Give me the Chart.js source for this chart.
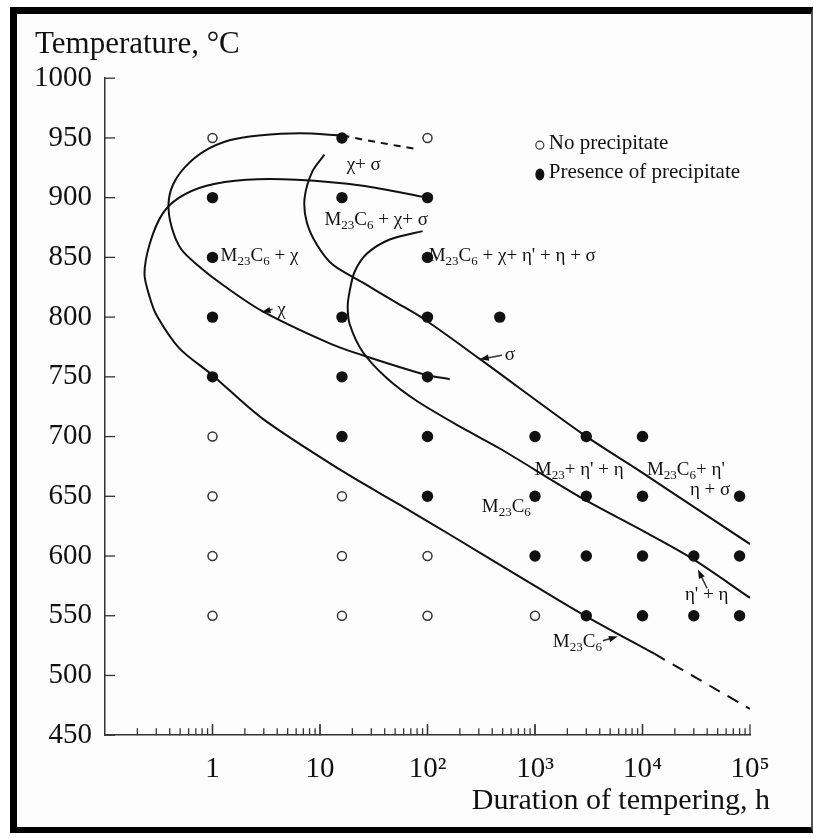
<!DOCTYPE html>
<html>
<head>
<meta charset="utf-8">
<script src="https://cdn.jsdelivr.net/npm/chart.js@4.4.1/dist/chart.umd.min.js"></script>
<style>
  html, body { margin: 0; background: #fff; }
  #wrap { position: relative; width: 814px; height: 838px; }
  #frame {
    position: absolute; left: 10px; top: 7px; width: 803px; height: 826px;
    box-sizing: border-box; background: #fdfdfd;
    border-left: 7px solid #000; border-top: 7px solid #000;
    border-right: 2px solid #555; border-bottom: 6px solid #000;
  }
  canvas { position: absolute; left: 0; top: 0; }
</style>
</head>
<body>
<div id="wrap">
  <div id="frame"></div>
  <canvas id="grafico" width="814" height="838"></canvas>
</div>
<script>
// observed samples (duration h, temperature C)
const openTime = [1, 1, 1, 1, 1, 16, 16, 16, 100, 100, 100, 1000];
const openTemp = [950, 700, 650, 600, 550, 650, 600, 550, 950, 600, 550, 550];

const filledTime = [1, 1, 1, 1, 16, 16, 16, 16, 16, 100, 100, 100, 100, 100, 100, 470,
  1000, 1000, 1000, 3000, 3000, 3000, 3000, 10000, 10000, 10000, 10000, 30000, 30000, 80000, 80000, 80000];
const filledTemp = [900, 850, 800, 750, 950, 900, 800, 750, 700, 900, 850, 800, 750, 700, 650, 800,
  700, 650, 600, 700, 650, 600, 550, 700, 650, 600, 550, 600, 550, 650, 600, 550];

// boundary curves
const chiTime = [16.2, 6.5, 2.7, 1.44, 0.84, 0.56, 0.43, 0.39, 0.415, 0.51, 0.76, 1.29, 2.9, 12.3, 27, 94, 161];
const chiTemp = [952, 954, 952, 948, 939, 926, 911, 895, 876, 857, 842, 826, 805, 778, 767, 752, 748];
const chiDashTime = [16.2, 36, 76];
const chiDashTemp = [952, 946, 941];

const m23Time = [100, 25, 6.05, 2.07, 0.88, 0.49, 0.34, 0.26, 0.233, 0.26, 0.3, 0.49, 0.98, 2.92, 16.2, 55, 161, 954, 2790, 13000];
const m23Temp = [900, 910, 915, 915, 910, 900, 886, 861, 836, 817, 802, 774, 752, 715, 671, 643, 618, 576, 551, 518];
const m23DashTime = [13000, 100000];
const m23DashTemp = [518, 472];

const sigmaTime = [11.0, 8.5, 7.2, 7.5, 9.3, 13.1, 24.9, 49.5, 94, 306, 2790, 9460, 16900, 100000];
const sigmaTemp = [936, 922, 900, 880, 861, 844, 829, 813, 798, 765, 702, 671, 656, 610];

const etaTime = [90, 44.5, 27.2, 21.0, 18.9, 18.1, 18.9, 24.9, 41.7, 79, 213, 470, 2790, 10100, 28800, 100000];
const etaTemp = [872, 865, 853, 838, 822, 809, 794, 771, 749, 730, 707, 690, 648, 621, 598, 565];

// axes
const xTickValues = [1, 10, 100, 1000, 10000, 100000];
const xTickLabels = ['1', '10', '10\u00B2', '10\u00B3', '10\u2074', '10\u2075'];

// phase labels (text anchored left/middle at time, temperature)
const labelTime = [1.19, 17.7, 11.0, 102.6, 4.0, 523, 996, 10990, 27600, 320, 24800, 1466];
const labelTemp = [851, 927, 881, 851, 806, 768, 672, 672, 655, 641, 567, 528];
const labelText = ['M_23C_6 + \u03C7', '\u03C7+ \u03C3', 'M_23C_6 + \u03C7+ \u03C3',
  "M_23C_6 + \u03C7+ \u03B7' + \u03B7 + \u03C3", '\u03C7', '\u03C3', "M_23+ \u03B7' + \u03B7",
  "M_23C_6+ \u03B7'", '\u03B7 + \u03C3', 'M_23C_6', "\u03B7' + \u03B7", 'M_23C_6'];

// arrows: tail -> tip
const arrowFrom = [[3.62, 806.5], [491, 768], [39800, 573], [4280, 529]];
const arrowTo = [[2.86, 804], [306, 764.7], [32800, 588.8], [5900, 532.7]];

const FONT = '"Liberation Serif", "DejaVu Serif", serif';
const INK = '#111';

function pares(xs, ys) {
  return xs.map((x, i) => ({ x: x, y: ys[i] }));
}

function curva(xs, ys, dash) {
  return {
    label: '',
    data: pares(xs, ys),
    showLine: true,
    pointRadius: 0,
    borderColor: INK,
    borderWidth: 2,
    borderDash: dash || [],
    tension: 0.3,
    fill: false
  };
}

function textoRico(ctx, text, x, y, size) {
  const parts = text.split(/_(\d+)/);
  let cx = x;
  parts.forEach((p, i) => {
    const sub = i % 2 === 1;
    const s = sub ? Math.round(size * 0.68) : size;
    ctx.font = s + 'px ' + FONT;
    ctx.fillText(p, cx, sub ? y + size * 0.3 : y);
    cx += ctx.measureText(p).width;
  });
}

function seta(ctx, x0, y0, x1, y1) {
  const ang = Math.atan2(y1 - y0, x1 - x0);
  ctx.beginPath();
  ctx.moveTo(x0, y0);
  ctx.lineTo(x1 - 5 * Math.cos(ang), y1 - 5 * Math.sin(ang));
  ctx.stroke();
  ctx.beginPath();
  ctx.moveTo(x1, y1);
  ctx.lineTo(x1 - 9 * Math.cos(ang) + 3.2 * Math.sin(ang), y1 - 9 * Math.sin(ang) - 3.2 * Math.cos(ang));
  ctx.lineTo(x1 - 9 * Math.cos(ang) - 3.2 * Math.sin(ang), y1 - 9 * Math.sin(ang) + 3.2 * Math.cos(ang));
  ctx.closePath();
  ctx.fill();
}

const extras = {
  id: 'extras',
  afterDraw(chart) {
    const { ctx, chartArea, scales: { x, y } } = chart;
    ctx.save();
    ctx.strokeStyle = '#333';
    ctx.fillStyle = INK;
    ctx.lineWidth = 1.3;

    // inward tick marks
    y.ticks.forEach(t => {
      const py = y.getPixelForValue(t.value);
      ctx.beginPath();
      ctx.moveTo(chartArea.left, py);
      ctx.lineTo(chartArea.left + 10, py);
      ctx.stroke();
    });
    for (let d = -1; d < 5; d++) {
      for (let m = 1; m <= 10; m++) {
        if (d === -1 && m === 1) continue;
        const px = x.getPixelForValue(m * Math.pow(10, d));
        const len = (m === 1 || m === 10) ? 11 : 7;
        ctx.beginPath();
        ctx.moveTo(px, chartArea.bottom);
        ctx.lineTo(px, chartArea.bottom - len);
        ctx.stroke();
      }
    }

    // x title
    ctx.font = '30px ' + FONT;
    ctx.textAlign = 'right';
    ctx.textBaseline = 'middle';
    ctx.fillText('Duration of tempering, h', chartArea.right + 20, 801);

    // phase labels
    ctx.textAlign = 'left';
    labelText.forEach((t, i) => {
      textoRico(ctx, t, x.getPixelForValue(labelTime[i]), y.getPixelForValue(labelTemp[i]), 19);
    });

    // arrows
    ctx.lineWidth = 1.5;
    arrowFrom.forEach((a, i) => {
      seta(ctx, x.getPixelForValue(a[0]), y.getPixelForValue(a[1]),
        x.getPixelForValue(arrowTo[i][0]), y.getPixelForValue(arrowTo[i][1]));
    });

    // legend
    const lx = x.getPixelForValue(1109);
    const tx = x.getPixelForValue(1344);
    const ly = [y.getPixelForValue(945.6), y.getPixelForValue(921)];
    ctx.lineWidth = 1.2;
    ctx.beginPath();
    ctx.arc(lx, ly[0] + 2, 4, 0, Math.PI * 2);
    ctx.stroke();
    ctx.beginPath();
    ctx.ellipse(lx, ly[1] + 2, 4.5, 6, 0, 0, Math.PI * 2);
    ctx.fill();
    ctx.font = '21px ' + FONT;
    ctx.fillText(chart.data.datasets[0].label, tx, ly[0]);
    ctx.fillText(chart.data.datasets[1].label, tx, ly[1]);
    ctx.restore();
  }
};

const tickFont = { family: FONT, size: 29 };

new Chart(document.getElementById('grafico'), {
  type: 'scatter',
  data: {
    datasets: [
      {
        label: 'No precipitate',
        data: pares(openTime, openTemp),
        pointRadius: 4.5,
        pointBackgroundColor: '#fff',
        pointBorderColor: '#333',
        pointBorderWidth: 1.5
      },
      {
        label: 'Presence of precipitate',
        data: pares(filledTime, filledTemp),
        pointRadius: 5.7,
        pointBackgroundColor: INK,
        pointBorderColor: INK,
        pointBorderWidth: 0
      },
      curva(chiTime, chiTemp),
      curva(chiDashTime, chiDashTemp, [7, 6]),
      curva(m23Time, m23Temp),
      curva(m23DashTime, m23DashTemp, [12, 9]),
      curva(sigmaTime, sigmaTemp),
      curva(etaTime, etaTemp)
    ]
  },
  options: {
    responsive: false,
    animation: false,
    events: [],
    layout: { padding: { left: 35, right: 64, top: 26, bottom: 34 } },
    plugins: {
      legend: { display: false },
      tooltip: { enabled: false },
      title: {
        display: true,
        text: 'Temperature, \u00B0C',
        align: 'start',
        color: INK,
        font: { family: FONT, size: 31, weight: 'normal' },
        padding: { top: 0, bottom: 15 }
      }
    },
    scales: {
      x: {
        type: 'logarithmic',
        min: 0.1,
        max: 100000,
        grid: { display: false, drawTicks: false },
        border: { display: true, color: '#333', width: 1.5 },
        afterBuildTicks: s => { s.ticks = xTickValues.map(v => ({ value: v })); },
        ticks: {
          autoSkip: false,
          maxRotation: 0,
          padding: 17,
          color: INK,
          font: tickFont,
          callback: (v, i) => xTickLabels[i]
        }
      },
      y: {
        min: 450,
        max: 1000,
        grid: { display: false, drawTicks: false },
        border: { display: true, color: '#333', width: 1.5 },
        afterFit: s => { s.width = 70; },
        ticks: { stepSize: 50, padding: 13, color: INK, font: tickFont, callback: v => String(v) }
      }
    }
  },
  plugins: [extras]
});
</script>
</body>
</html>
